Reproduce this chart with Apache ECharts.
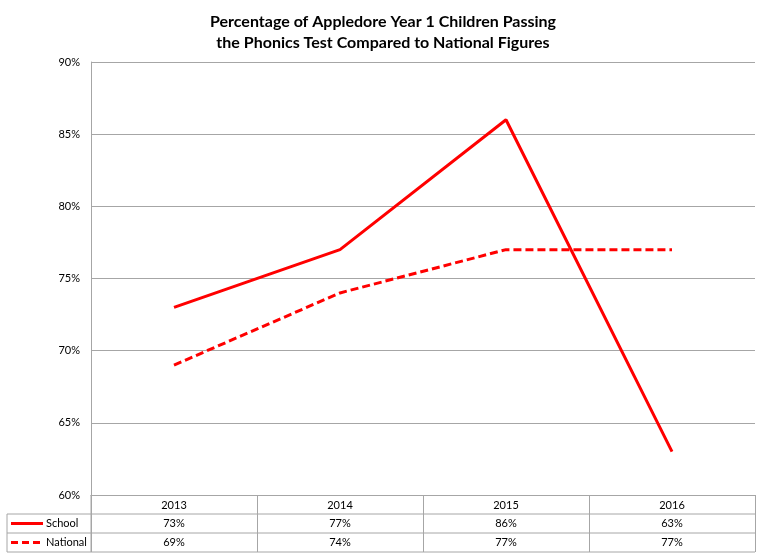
<!DOCTYPE html>
<html><head><meta charset="utf-8">
<script src="https://cdn.jsdelivr.net/npm/echarts@6/dist/echarts.min.js"></script>
<style>html,body{margin:0;padding:0;background:#fff}#c{width:768px;height:556px}</style>
</head><body><div id="c"></div>
<script>
var categories = ['2013', '2014', '2015', '2016'];
var schoolValues = [73, 77, 86, 63];
var nationalValues = [69, 74, 77, 77];
var seriesNames = ['School', 'National'];
var yTicks = [60, 65, 70, 75, 80, 85, 90];

var FONT = 'Lato, "Open Sans", sans-serif';
var GRID = {left: 91, right: 13, top: 62, bottom: 61};
var LINE = '#a6a6a6';
var chart = echarts.init(document.getElementById('c'), null, {renderer: 'canvas'});

chart.setOption({
  animation: false,
  backgroundColor: '#fff',
  title: {
    text: 'Percentage of Appledore Year 1 Children Passing\nthe Phonics Test Compared to National Figures',
    left: 378, textAlign: 'center', top: 6,
    textStyle: {fontFamily: FONT, fontSize: 16, fontWeight: 'bold', color: '#000', lineHeight: 21}
  },
  grid: GRID,
  xAxis: {
    type: 'category', data: categories, boundaryGap: true,
    axisLine: {lineStyle: {color: LINE}},
    axisTick: {show: true, length: 57, lineStyle: {color: LINE}},
    axisLabel: {fontFamily: FONT, fontSize: 11, color: '#000', margin: 5}
  },
  yAxis: {
    type: 'value', min: yTicks[0], max: yTicks[yTicks.length - 1], interval: 5,
    axisLine: {show: true, lineStyle: {color: LINE}},
    axisTick: {show: false},
    splitLine: {lineStyle: {color: LINE}},
    axisLabel: {fontFamily: FONT, fontSize: 11, color: '#000', margin: 11, formatter: '{value}%'}
  },
  series: [
    {name: seriesNames[0], type: 'line', data: schoolValues, symbol: 'none',
     lineStyle: {color: '#ff0000', width: 3}},
    {name: seriesNames[1], type: 'line', data: nationalValues, symbol: 'none',
     lineStyle: {color: '#ff0000', width: 3, type: [8, 4]}}
  ]
});

// data table below the plot
var gridRect = {x: GRID.left, y: GRID.top, w: 768 - GRID.left - GRID.right, h: 556 - GRID.top - GRID.bottom};
var base = gridRect.y + gridRect.h; // 495
var rowY = [base + 19, base + 38, base + 57];
var els = [];
var tableLeft = 7;
rowY.forEach(function (y) {
  els.push({type: 'line', shape: {x1: tableLeft, y1: y, x2: gridRect.x + gridRect.w, y2: y}, style: {stroke: LINE, lineWidth: 1}, silent: true});
});
els.push({type: 'line', shape: {x1: tableLeft, y1: rowY[0], x2: tableLeft, y2: rowY[2]}, style: {stroke: LINE, lineWidth: 1}});
els.push({type: 'line', shape: {x1: gridRect.x, y1: base, x2: gridRect.x, y2: rowY[2]}, style: {stroke: LINE, lineWidth: 1}});
var rowsData = [schoolValues, nationalValues];
rowsData.forEach(function (vals, r) {
  var cy = (rowY[r] + rowY[r + 1]) / 2;
  vals.forEach(function (v, i) {
    var px = chart.convertToPixel({xAxisIndex: 0}, categories[i]);
    els.push({type: 'text', x: px, y: cy, style: {text: v + '%', fontFamily: FONT, fontSize: 11, fill: '#000', textAlign: 'center', textVerticalAlign: 'middle'}});
  });
  els.push({type: 'line', shape: {x1: 11, y1: cy, x2: 43, y2: cy}, style: {stroke: '#ff0000', lineWidth: 3, lineDash: r === 1 ? [7, 4] : null}});
  els.push({type: 'text', x: 46, y: cy, style: {text: seriesNames[r], fontFamily: FONT, fontSize: 11, fill: '#000', textAlign: 'left', textVerticalAlign: 'middle'}});
});
chart.setOption({graphic: els});
</script></body></html>
